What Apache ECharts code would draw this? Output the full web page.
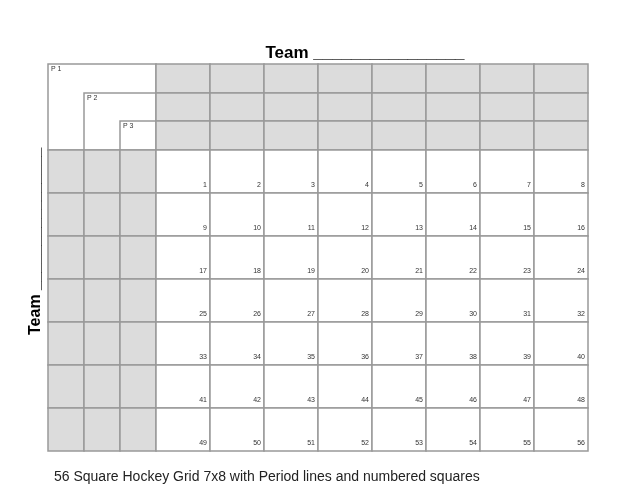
<!DOCTYPE html>
<html>
<head>
<meta charset="utf-8">
<script src="https://cdn.jsdelivr.net/npm/echarts@6/dist/echarts.min.js"></script>
<style>body{margin:0;background:#fff}</style>
</head>
<body>
<div id="main" style="width:641px;height:495px;"></div>
<script type="text/javascript">
// column edges (3 narrow period columns then 8 score columns), row edges (3 period rows then 7 score rows)
var colEdges = [0, 36, 72, 108, 162, 216, 270, 324, 378, 432, 486, 540];
var rowEdges = [0, 29, 57, 86, 129, 172, 215, 258, 301, 344, 387];
var periodLabels = ['P 1', 'P 2', 'P 3'];
var squareNumbers = [
  1, 2, 3, 4, 5, 6, 7, 8,
  9, 10, 11, 12, 13, 14, 15, 16,
  17, 18, 19, 20, 21, 22, 23, 24,
  25, 26, 27, 28, 29, 30, 31, 32,
  33, 34, 35, 36, 37, 38, 39, 40,
  41, 42, 43, 44, 45, 46, 47, 48,
  49, 50, 51, 52, 53, 54, 55, 56
];

// cells: [col0, row0, col1, row1, fill, label, labelPos]
var cells = [];
periodLabels.forEach(function (p, i) {
  cells.push([i, i, 3, 3, '#ffffff', p, 'tl']);
});
for (var r = 0; r < 3; r++) for (var c = 0; c < 8; c++) cells.push([3 + c, r, 4 + c, r + 1, '#dcdcdc', '', '']);
for (var r = 0; r < 7; r++) for (var c = 0; c < 3; c++) cells.push([c, 3 + r, c + 1, 4 + r, '#dcdcdc', '', '']);
for (var r = 0; r < 7; r++) for (var c = 0; c < 8; c++)
  cells.push([3 + c, 3 + r, 4 + c, 4 + r, '#ffffff', String(squareNumbers[r * 8 + c]), 'br']);

var myChart = echarts.init(document.getElementById('main'));
myChart.setOption({
  animation: false,
  title: [{
    text: 'Team ________________', left: 360, top: 40, textAlign: 'center',
    textStyle: { fontFamily: 'Liberation Sans', fontSize: 17, fontWeight: 'bold', color: '#000' }
  }, {
    text: '56 Square Hockey Grid 7x8 with Period lines and numbered squares', left: 49, top: 465,
    textStyle: { fontFamily: 'Liberation Sans', fontSize: 14, fontWeight: 'normal', color: '#222' }
  }],
  graphic: [{
    type: 'text', x: 44, y: 335, rotation: Math.PI / 2,
    style: { text: 'Team ________________', font: 'bold 16px "Liberation Sans"', fill: '#000', align: 'left', verticalAlign: 'bottom' }
  }],
  grid: { left: 48, top: 64, width: 540, height: 387 },
  xAxis: { type: 'value', min: 0, max: 540, show: false },
  yAxis: { type: 'value', min: 0, max: 387, inverse: true, show: false },
  series: [{
    type: 'custom',
    coordinateSystem: 'cartesian2d',
    data: cells,
    renderItem: function (params, api) {
      var d = cells[params.dataIndex];
      var p0 = api.coord([colEdges[d[0]], rowEdges[d[1]]]);
      var p1 = api.coord([colEdges[d[2]], rowEdges[d[3]]]);
      var children = [{
        type: 'rect',
        shape: { x: p0[0], y: p0[1], width: p1[0] - p0[0], height: p1[1] - p0[1] },
        style: { fill: d[4], stroke: '#999999', lineWidth: 1.5 }
      }];
      if (d[5]) {
        var tl = d[6] === 'tl';
        children.push({
          type: 'text',
          x: tl ? p0[0] + 3 : p1[0] - 3,
          y: tl ? p0[1] + 2 : p1[1] - 4,
          style: {
            text: d[5], font: '7px "Liberation Sans"', fill: '#333',
            align: tl ? 'left' : 'right', verticalAlign: tl ? 'top' : 'bottom'
          }
        });
      }
      return { type: 'group', children: children };
    }
  }]
});
</script>
</body>
</html>
